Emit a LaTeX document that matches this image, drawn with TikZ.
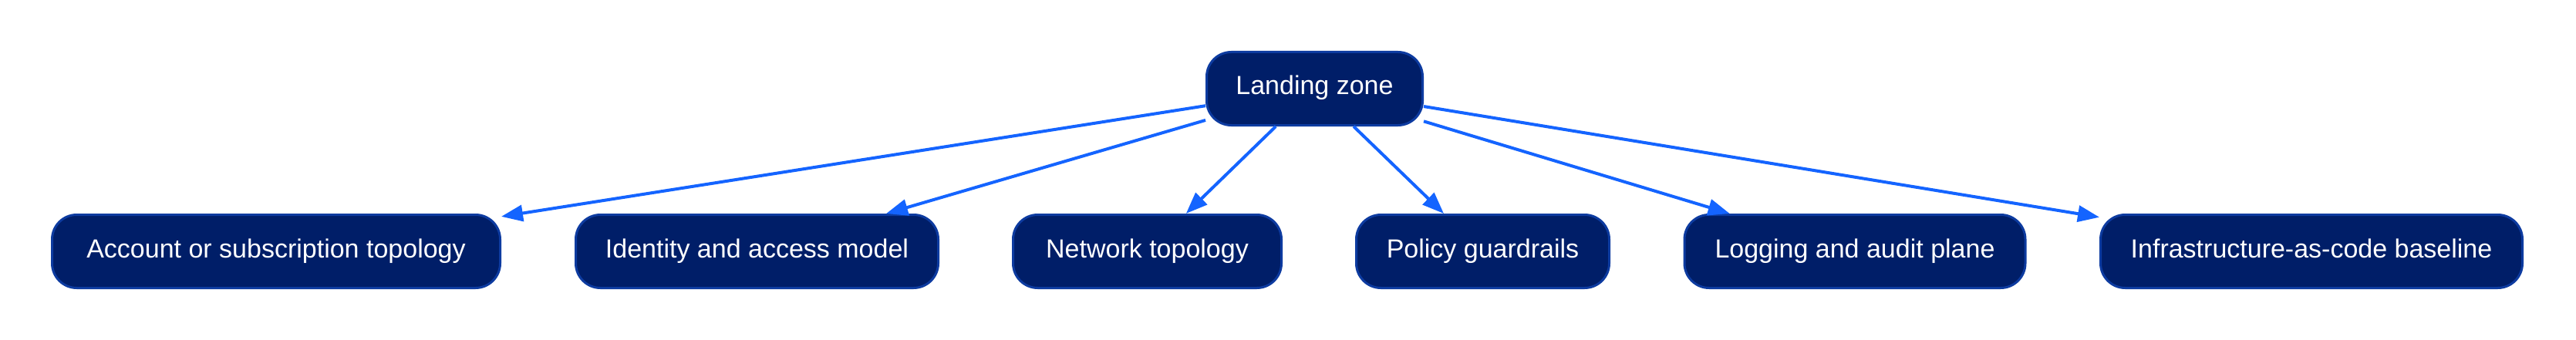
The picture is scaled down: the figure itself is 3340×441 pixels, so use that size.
\documentclass[tikz,border=0pt]{standalone}
\usepackage{fontspec}
\setmainfont{Liberation Sans}
\usetikzlibrary{arrows.meta}
\definecolor{boxfill}{HTML}{001E68}
\definecolor{boxline}{HTML}{0D3BA0}
\definecolor{edgecol}{HTML}{1464FF}
\begin{document}
\begin{tikzpicture}[x=1pt,y=1pt,
  box/.style={rectangle, rounded corners=32pt, fill=boxfill, draw=boxline, line width=3pt,
    text=white, inner sep=0pt, minimum height=95pt, text height=24pt, text depth=8pt,
    font=\fontsize{34}{40}\selectfont},
  conn/.style={draw=edgecol, line width=4pt, -{Triangle[length=28pt,width=21pt]}}]
\useasboundingbox (0,0) rectangle (3340,-441);
\node[box, minimum width=280pt] (lz) at (1704.5,-115) {Landing zone};
\node[box, minimum width=581pt] (acc) at (358,-326) {Account or subscription topology};
\node[box, minimum width=470pt] (iam) at (981.5,-326) {Identity and access model};
\node[box, minimum width=348pt] (net) at (1487.5,-326) {Network topology};
\node[box, minimum width=328pt] (pol) at (1922.5,-326) {Policy guardrails};
\node[box, minimum width=442pt] (log) at (2405,-326) {Logging and audit plane};
\node[box, minimum width=547pt] (iac) at (2997,-326) {Infrastructure-as-code baseline};
\foreach \t in {acc,iam,net,pol,log,iac}
  \draw[conn] (lz) -- (\t);
\end{tikzpicture}
\end{document}
